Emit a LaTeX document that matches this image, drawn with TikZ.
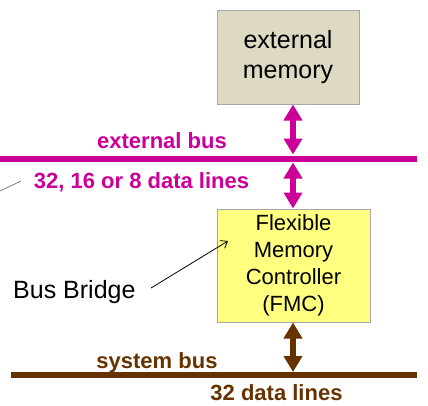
\documentclass[tikz,border=0pt]{standalone}
\usepackage{fontspec}
\setmainfont{Liberation Sans}
\usetikzlibrary{arrows.meta,calc}
\definecolor{mag}{RGB}{204,0,153}
\definecolor{brn}{RGB}{102,51,0}
\definecolor{beige}{RGB}{221,217,195}
\definecolor{ylw}{RGB}{255,255,128}
\tikzset{
  box/.style={draw=gray!70, line width=1pt, inner sep=0pt, align=center},
  bus/.style={line width=6pt},
  dblarrow/.style={line width=6pt, {Triangle[width=18pt,length=16pt]}-{Triangle[width=18pt,length=16pt]}},
  buslabel/.style={font=\fontsize{22}{26}\selectfont\bfseries, inner sep=0pt, anchor=base},
}
\begin{document}
\begin{tikzpicture}[x=1pt,y=-1pt]
\useasboundingbox (0,0) rectangle (428,405);
% external memory
\node[box, fill=beige, minimum width=142pt, minimum height=94pt,
      font=\fontsize{25}{30}\selectfont] (mem) at (288,57) {external\\memory};
% FMC
\node[box, fill=ylw, minimum width=153pt, minimum height=113pt,
      font=\fontsize{22}{27}\selectfont] (fmc) at (293.5,265.5) {Flexible\\Memory\\Controller\\(FMC)};
% buses
\coordinate (ebl) at (0,159);
\coordinate (ebr) at (417,159);
\coordinate (sbl) at (11,375);
\coordinate (sbr) at (417,375);
\draw[bus, mag] (ebl) -- (ebr);
\draw[bus, brn] (sbl) -- (sbr);
\coordinate (ax) at (293,0);
% arrows
\draw[dblarrow, mag] (mem.south -| ax) -- ($(ebl -| ax)+(0,-4.5)$);
\draw[dblarrow, mag] ($(ebl -| ax)+(0,3.5)$) -- (fmc.north -| ax);
\draw[dblarrow, brn] (fmc.south -| ax) -- ($(sbl -| ax)+(0,-3)$);
% labels
\node[buslabel, text=mag] (ebus) at (162,148) {external bus};
\node[buslabel, text=mag] (elines) at (141.5,188) {32, 16 or 8 data lines};
\node[buslabel, text=brn] (sbus) at (157,368) {system bus};
\node[buslabel, text=brn] (slines) at (276.5,400) {32 data lines};
% bus bridge
\node[font=\fontsize{25}{30}\selectfont, inner sep=0pt, anchor=base west] (bb) at (13,298) {Bus Bridge};
\coordinate (bbs) at (151,288);
\coordinate (bbe) at (228,241);
\draw[line width=0.8pt, -{Straight Barb[length=6pt,width=9pt]}] (bbs) -- (bbe);
% stray fragment
\coordinate (g1) at (0,191);
\coordinate (g2) at (21,181);
\draw[gray, line width=0.8pt] (g1) -- (g2);
\end{tikzpicture}
\end{document}
